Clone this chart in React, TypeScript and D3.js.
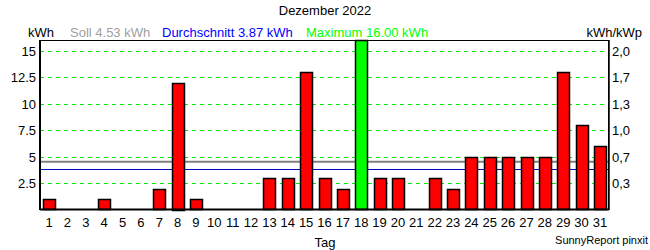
import React from "react";
import * as d3 from "d3";

const days = Array.from({ length: 31 }, (_, i) => String(i + 1));
const values = [1, 0, 0, 1, 0, 0, 2, 12, 1, 0, 0, 0, 3, 3, 13, 3, 2, 16, 3, 3, 0, 3, 2, 5, 5, 5, 5, 5, 13, 8, 6];
const maxDay = "18";
const leftTicks = [2.5, 5, 7.5, 10, 12.5, 15];
const leftTickLabels = ["2.5", "5", "7.5", "10", "12.5", "15"];
const rightTickLabels = ["0,3", "0,7", "1,0", "1,3", "1,7", "2,0"];
const soll = 4.53;
const avg = 3.87;
const maxVal = 16.0;
const title = "Dezember 2022";

const W = 650, H = 250;
const L = 40, R = 609, T = 40, B = 210;

export default function App() {
  const x = d3.scaleBand<string>().domain(days).range([L, R]).paddingInner(0.35).paddingOuter(0.17);
  const y = d3.scaleLinear().domain([0, 16]).range([B, T]);
  const font = "Arial, 'Liberation Sans', sans-serif";
  return (
    <div style={{ position: "absolute", left: 0, top: 0 }}>
      <svg width={W} height={H} style={{ display: "block", fontFamily: font }}>
        <rect x={0} y={0} width={W} height={H} fill="#fff" />
        <text x={325} y={15} textAnchor="middle" fontSize={13} fill="#000">{title}</text>
        <text x={28} y={37} fontSize={13} fill="#000">kWh</text>
        <text x={70} y={37} fontSize={13} fill="#a0a0a0">Soll {soll.toFixed(2)} kWh</text>
        <text x={162} y={37} fontSize={13} fill="#0000ff">Durchschnitt {avg.toFixed(2)} kWh</text>
        <text x={306} y={37} fontSize={13} fill="#00ff00">Maximum {maxVal.toFixed(2)} kWh</text>
        <text x={642} y={37} fontSize={13} textAnchor="end" fill="#000">kWh/kWp</text>
        {leftTicks.map((t, i) => (
          <g key={t}>
            <line x1={L} x2={R} y1={Math.round(y(t)) + 0.5} y2={Math.round(y(t)) + 0.5} stroke="#00ee00" strokeDasharray="4,4" />
            <text x={36} y={y(t) + 5} textAnchor="end" fontSize={13} fill="#000">{leftTickLabels[i]}</text>
            <text x={612} y={y(t) + 5} fontSize={13} fill="#000">{rightTickLabels[i]}</text>
          </g>
        ))}
        <line x1={L} x2={R} y1={y(soll)} y2={y(soll)} stroke="#808080" strokeWidth={2} />
        <line x1={L} x2={R} y1={Math.round(y(avg)) + 0.5} y2={Math.round(y(avg)) + 0.5} stroke="#0000c0" strokeWidth={1} />
        {values.map((v, i) => v > 0 && (
          <rect key={i} x={Math.round(x(days[i])!) + 0.5} y={Math.round(y(v)) + 0.5} width={Math.round(x.bandwidth())}
            height={Math.round(B - y(v)) - 1} fill={days[i] === maxDay ? "#00ff00" : "#ff0000"} stroke="#000" strokeWidth={1.5} />
        ))}
        <rect x={L + 0.5} y={T + 0.5} width={R - L - 1} height={B - T - 1} fill="none" stroke="#000" strokeWidth={1} />
        <line x1={L} x2={L} y1={T} y2={B} stroke="#000" strokeWidth={2} />
        <line x1={L} x2={R} y1={B - 0.5} y2={B - 0.5} stroke="#000" strokeWidth={2} />
        <line x1={R} x2={R} y1={T} y2={B} stroke="#000" strokeWidth={1.5} />
        {days.map(d => (
          <text key={d} x={x(d)! + x.bandwidth() / 2} y={227} textAnchor="middle" fontSize={13} fill="#000">{d}</text>
        ))}
        <text x={325} y={247} textAnchor="middle" fontSize={13} fill="#000">Tag</text>
        <text x={648} y={244} textAnchor="end" fontSize={11} fill="#000">SunnyReport pinxit</text>
      </svg>
    </div>
  );
}
